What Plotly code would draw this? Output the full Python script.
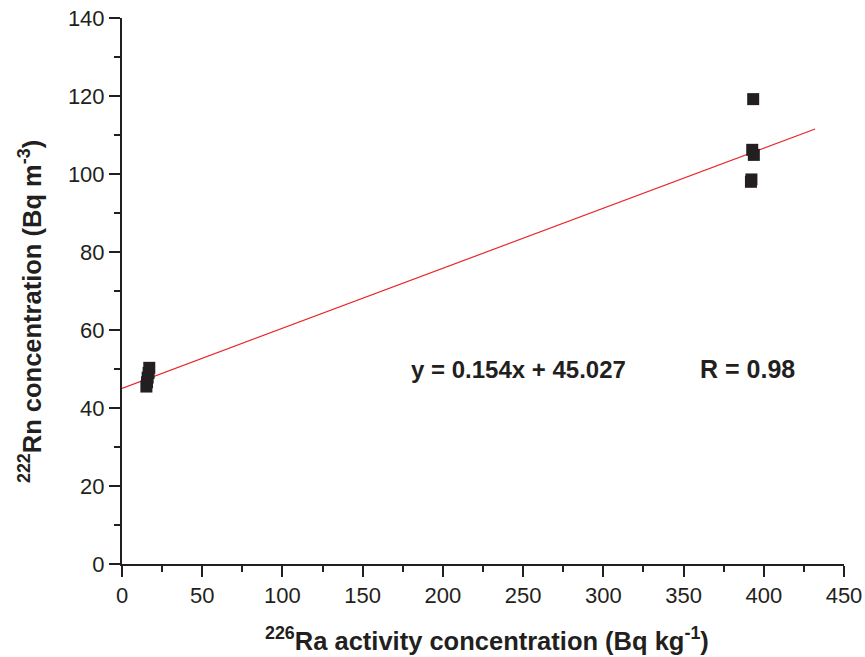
import plotly.graph_objects as go

# Data
ra_low = [15.2, 15.6, 16.0, 16.6, 17.0]
rn_low = [45.5, 46.6, 47.8, 49.0, 50.3]
ra_high = [392.0, 392.3, 392.8, 393.8, 393.4]
rn_high = [98.0, 98.6, 106.2, 104.9, 119.2]

slope = 0.154
intercept = 45.027
fit_x = [0, 432]
fit_y = [intercept + slope * v for v in fit_x]

x_ticks = [0, 50, 100, 150, 200, 250, 300, 350, 400, 450]
y_ticks = [0, 20, 40, 60, 80, 100, 120, 140]

FONT = "Liberation Sans, Arial, sans-serif"
AX = "#231f20"

fig = go.Figure()
fig.add_trace(go.Scatter(x=fit_x, y=fit_y, mode="lines",
                         line=dict(color="#e8262a", width=1.2), showlegend=False))
fig.add_trace(go.Scatter(x=ra_low + ra_high, y=rn_low + rn_high, mode="markers",
                         marker=dict(symbol="square", size=12, color=AX, line=dict(width=0)),
                         showlegend=False))

axis_common = dict(
    showgrid=False, zeroline=False, showline=True, linecolor=AX, linewidth=2,
    ticks="outside", ticklen=11, tickwidth=2, tickcolor=AX,
    tickfont=dict(family=FONT, size=22, color=AX),
    minor=dict(ticks="outside", ticklen=6, tickwidth=2, tickcolor=AX),
    mirror=False, automargin=False, ticklabeloverflow="allow",
)

fig.update_xaxes(range=[0, 450], tickvals=x_ticks, minor_dtick=25, **axis_common)
fig.update_yaxes(range=[0, 140], tickvals=y_ticks, minor_dtick=10, **axis_common)

# axis titles as annotations for exact placement
fig.add_annotation(xref="paper", yref="paper", x=0.5055, y=0, yshift=-75,
                   xanchor="center", yanchor="middle", showarrow=False,
                   text="<b><sup>226</sup>Ra activity concentration (Bq kg<sup>-1</sup>)</b>",
                   font=dict(family=FONT, size=25.5, color=AX))
fig.add_annotation(xref="paper", yref="paper", x=0, xshift=-92, y=0.4615,
                   xanchor="center", yanchor="middle", showarrow=False, textangle=-90,
                   text="<b><sup>222</sup>Rn concentration (Bq m<sup>-3</sup>)</b>",
                   font=dict(family=FONT, size=25.5, color=AX))

fig.add_annotation(x=247.4, y=50, text="<b>y = 0.154x + 45.027</b>", showarrow=False,
                   font=dict(family=FONT, size=24, color=AX))
fig.add_annotation(x=389.8, y=50, text="<b>R = 0.98</b>", showarrow=False,
                   font=dict(family=FONT, size=25, color=AX))

fig.update_layout(width=865, height=657, plot_bgcolor="white", paper_bgcolor="white",
                  margin=dict(l=122, r=21, t=18, b=93, autoexpand=False))

# remove the default 8px page margin so the figure fills the window exactly
fig.write_html("out.html", config={"displayModeBar": False},
               post_script="document.body.style.margin='0';")
